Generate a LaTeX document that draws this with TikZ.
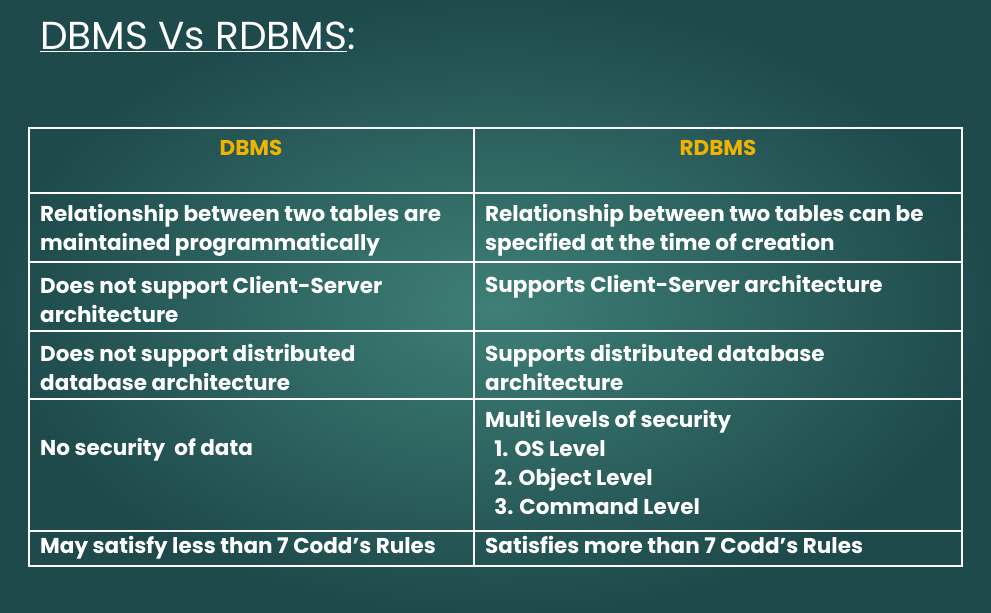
\documentclass[tikz,border=0pt]{standalone}
\usepackage{fontspec}
\setmainfont{Poppins}
\usetikzlibrary{positioning}
\definecolor{bgin}{HTML}{3E7F76}
\definecolor{bgout}{HTML}{1E4A4C}
\definecolor{headgold}{HTML}{F0B400}
\tikzset{
  cell/.style={anchor=west, align=left, text=white, font=\fontsize{21.5}{29}\selectfont\bfseries, inner sep=0pt},
  line/.style={cell, anchor=base west},
  head/.style={text=headgold, font=\fontsize{21.5}{29}\selectfont\bfseries, inner sep=0pt},
  grid/.style={white, line width=1.3pt}
}
\begin{document}
\begin{tikzpicture}[x=1pt,y=-1pt]
  \shade[inner color=bgin, outer color=bgout] (0,0) rectangle (991,613);
  \useasboundingbox (0,0) rectangle (991,613);

  % title
  \node[anchor=west, text=white, font=\fontsize{39}{46}\selectfont, inner sep=0pt] (title) at (40,37) {\underline{DBMS Vs RDBMS}:};

  % table lines
  \draw[grid] (29,128) rectangle (962,566);
  \draw[white, line width=2.6pt] (29,193) -- (962,193);
  \foreach \y in {262,331,399,531}
    \draw[grid] (29,\y) -- (962,\y);
  \draw[grid] (474,128) -- (474,566);

  % header
  \node[head] (hdbms) at (251,148) {DBMS};
  \node[head] (hrdbms) at (718,148) {RDBMS};

  % left column
  \node[cell] (l1) at (40,230) {Relationship between two tables are\\maintained programmatically};
  \node[cell] (l2) at (40,299) {Does not support Client-Server\\architecture};
  \node[cell] (l3) at (40,367) {Does not support distributed\\database architecture};
  \node[line] (l4) at (40,455) {No security\ \ of data};
  \node[line] (l5) at (40,553) {May satisfy less than 7 Codd’s Rules};

  % right column
  \node[cell] (r1) at (485,230) {Relationship between two tables can be\\specified at the time of creation};
  \node[line] (r2) at (485,292) {Supports Client-Server architecture};
  \node[cell] (r3) at (485,367) {Supports distributed database\\architecture};
  \node[cell] (r4) at (485,462) {Multi levels of security\\\ \ 1. OS Level\\\ \ 2. Object Level\\\ \ 3. Command Level};
  \node[line] (r5) at (485,553) {Satisfies more than 7 Codd’s Rules};
\end{tikzpicture}
\end{document}
